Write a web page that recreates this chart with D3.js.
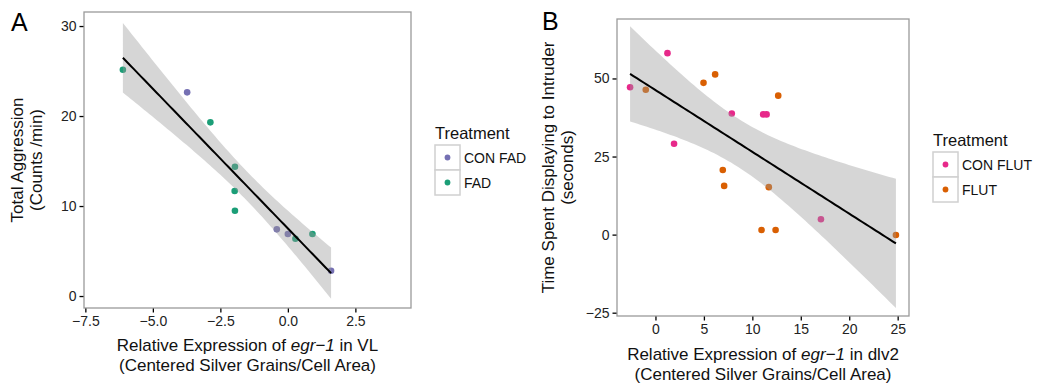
<!DOCTYPE html>
<html>
<head>
<meta charset="utf-8">
<script src="https://cdn.jsdelivr.net/npm/d3@7"></script>
<style>
  html, body { margin: 0; padding: 0; background: #fff; }
  svg { display: block; font-family: "Liberation Sans", Arial, Helvetica, sans-serif; }
</style>
</head>
<body>
<svg id="chart" width="1037" height="385"></svg>
<script>
// ---- Panel A: VL expression vs. total aggression ----
const conFadX = [-3.73, -0.41, 0.00, 1.60];
const conFadY = [22.63, 7.41, 6.89, 2.81];
const fadX = [-6.11, -2.87, -1.96, -1.97, -1.96, 0.28, 0.91];
const fadY = [25.14, 19.30, 14.37, 11.67, 9.48, 6.37, 6.89];
const aTicksX = [-7.5, -5.0, -2.5, 0.0, 2.5];
const aTicksY = [0, 10, 20, 30];
const aLegend = ["CON FAD", "FAD"];

// ---- Panel B: dlv2 expression vs. display time ----
const conFlutX = [-2.62, 1.24, 1.92, 7.88, 11.12, 11.47, 17.08];
const conFlutY = [47.2, 58.1, 29.1, 38.8, 38.5, 38.5, 4.9];
const flutX = [-1.0, 4.96, 6.16, 6.95, 7.09, 10.95, 11.7, 12.4, 12.67, 24.82];
const flutY = [46.4, 48.6, 51.3, 20.7, 15.6, 1.5, 15.2, 1.5, 44.5, -0.1];
const bTicksX = [0, 5, 10, 15, 20, 25];
const bTicksY = [-25, 0, 25, 50];
const bLegend = ["CON FLUT", "FLUT"];

const svg = d3.select("#chart");

// Student t quantile (Cornish-Fisher expansion around the normal quantile)
function tQuantile975(df) {
  const z = 1.959964;
  const z3 = z ** 3, z5 = z ** 5, z7 = z ** 7, z9 = z ** 9;
  const g1 = (z3 + z) / 4;
  const g2 = (5 * z5 + 16 * z3 + 3 * z) / 96;
  const g3 = (3 * z7 + 19 * z5 + 17 * z3 - 15 * z) / 384;
  const g4 = (79 * z9 + 776 * z7 + 1482 * z5 - 1920 * z3 - 945 * z) / 92160;
  return z + g1 / df + g2 / df ** 2 + g3 / df ** 3 + g4 / df ** 4;
}

// Ordinary least squares fit with a 95% confidence band, like geom_smooth(method = "lm")
function linearFit(xs, ys) {
  const n = xs.length;
  const mx = d3.mean(xs), my = d3.mean(ys);
  let sxx = 0, sxy = 0;
  xs.forEach((x, i) => { sxx += (x - mx) ** 2; sxy += (x - mx) * (ys[i] - my); });
  const b = sxy / sxx, a = my - b * mx;
  let rss = 0;
  xs.forEach((x, i) => { rss += (ys[i] - (a + b * x)) ** 2; });
  const s = Math.sqrt(rss / (n - 2));
  const t = tQuantile975(n - 2);
  const [x0, x1] = d3.extent(xs);
  return d3.range(80).map(k => {
    const x = x0 + (x1 - x0) * k / 79;
    const yh = a + b * x;
    const se = s * Math.sqrt(1 / n + (x - mx) ** 2 / sxx);
    return { x, y: yh, lo: yh - t * se, hi: yh + t * se };
  });
}

function panel(cfg) {
  const { left, right, top, bottom } = cfg.box;
  const x = d3.scaleLinear().domain(cfg.xDomain).range([left, right]);
  const y = d3.scaleLinear().domain(cfg.yDomain).range([bottom, top]);
  const g = svg.append("g");

  // panel letter
  g.append("text").attr("x", cfg.letterPos[0]).attr("y", cfg.letterPos[1])
    .attr("font-size", 25).attr("fill", "#000").text(cfg.letter);

  // points (drawn first; the band is laid over them)
  cfg.groups.forEach(grp => {
    g.append("g").selectAll("circle")
      .data(grp.xs.map((v, i) => [v, grp.ys[i]]))
      .join("circle")
      .attr("cx", d => x(d[0])).attr("cy", d => y(d[1]))
      .attr("r", 3.3).attr("fill", grp.color);
  });

  const allX = cfg.groups.flatMap(gr => gr.xs);
  const allY = cfg.groups.flatMap(gr => gr.ys);
  const fit = linearFit(allX, allY);

  g.append("path").datum(fit)
    .attr("d", d3.area().x(d => x(d.x)).y0(d => y(d.lo)).y1(d => y(d.hi)))
    .attr("fill", "#999999").attr("fill-opacity", 0.4);
  g.append("path").datum(fit)
    .attr("d", d3.line().x(d => x(d.x)).y(d => y(d.y)))
    .attr("fill", "none").attr("stroke", "#000").attr("stroke-width", 2);

  // panel border
  g.append("rect").attr("x", left).attr("y", top)
    .attr("width", right - left).attr("height", bottom - top)
    .attr("fill", "none").attr("stroke", "#9a9a9a").attr("stroke-width", 1.3);

  // axes
  const xAxis = d3.axisBottom(x).tickValues(cfg.xTicks).tickFormat(d3.format(cfg.xFmt))
    .tickSize(4).tickPadding(4);
  const yAxis = d3.axisLeft(y).tickValues(cfg.yTicks).tickFormat(d3.format(cfg.yFmt))
    .tickSize(4).tickPadding(3);
  const gx = g.append("g").attr("transform", `translate(0,${bottom + 0.5})`).call(xAxis);
  const gy = g.append("g").attr("transform", `translate(${left - 0.5},0)`).call(yAxis);
  [gx, gy].forEach(ax => {
    ax.select(".domain").remove();
    ax.selectAll(".tick line").attr("stroke", "#000").attr("stroke-width", 1.3);
    ax.selectAll(".tick text").attr("font-size", 14).attr("fill", "#222")
      .attr("font-family", "Liberation Sans, Arial, sans-serif");
  });

  // x title (two lines, italic gene name)
  const cx = (left + right) / 2;
  const xt = g.append("text").attr("x", cx).attr("y", cfg.xTitleY)
    .attr("text-anchor", "middle").attr("font-size", 17).attr("fill", "#111");
  xt.append("tspan").text("Relative Expression of ");
  xt.append("tspan").attr("font-style", "italic").text("egr\u22121");
  xt.append("tspan").text(" in " + cfg.region);
  g.append("text").attr("x", cx).attr("y", cfg.xTitleY + 19.5)
    .attr("text-anchor", "middle").attr("font-size", 17).attr("fill", "#111")
    .text("(Centered Silver Grains/Cell Area)");

  // y title (two lines, rotated)
  const cy = (top + bottom) / 2;
  cfg.yTitle.forEach((line, i) => {
    g.append("text")
      .attr("transform", `translate(${cfg.yTitleX + i * 19},${cy}) rotate(-90)`)
      .attr("text-anchor", "middle").attr("font-size", 17).attr("fill", "#111")
      .text(line);
  });

  // legend
  const [lx, ly] = cfg.legendPos;
  const lg = g.append("g");
  lg.append("text").attr("x", lx).attr("y", ly).attr("font-size", 16.5).attr("fill", "#111")
    .text("Treatment");
  cfg.legend.forEach((lab, i) => {
    const ky = ly + 6 + i * 25;
    lg.append("rect").attr("x", lx).attr("y", ky).attr("width", 25).attr("height", 25)
      .attr("fill", "#fff").attr("stroke", "#d0d0d0").attr("stroke-width", 1.5);
    lg.append("circle").attr("cx", lx + 12.5).attr("cy", ky + 12.5).attr("r", 2.9)
      .attr("fill", cfg.groups[i].color);
    lg.append("text").attr("x", lx + 29).attr("y", ky + 18).attr("font-size", 14)
      .attr("fill", "#111").text(lab);
  });
}

panel({
  letter: "A", letterPos: [11, 31],
  box: { left: 84, right: 411, top: 12, bottom: 308 },
  xDomain: [-7.55, 4.56], yDomain: [-1.33, 31.56],
  xTicks: aTicksX, yTicks: aTicksY, xFmt: ".1f", yFmt: "d",
  groups: [
    { xs: conFadX, ys: conFadY, color: "#7570b3" },
    { xs: fadX, ys: fadY, color: "#1b9e77" }
  ],
  region: "VL", xTitleY: 351,
  yTitle: ["Total Aggression", "(Counts /min)"], yTitleX: 23,
  legend: aLegend, legendPos: [435, 139]
});

panel({
  letter: "B", letterPos: [542, 30],
  box: { left: 617, right: 909, top: 19, bottom: 316 },
  xDomain: [-3.97, 26.17], yDomain: [-26.06, 69.04],
  xTicks: bTicksX, yTicks: bTicksY, xFmt: "d", yFmt: "d",
  groups: [
    { xs: conFlutX, ys: conFlutY, color: "#e7298a" },
    { xs: flutX, ys: flutY, color: "#d95f02" }
  ],
  region: "dlv2", xTitleY: 360,
  yTitle: ["Time Spent Displaying to Intruder", "(seconds)"], yTitleX: 554,
  legend: bLegend, legendPos: [933, 146]
});
</script>
</body>
</html>
